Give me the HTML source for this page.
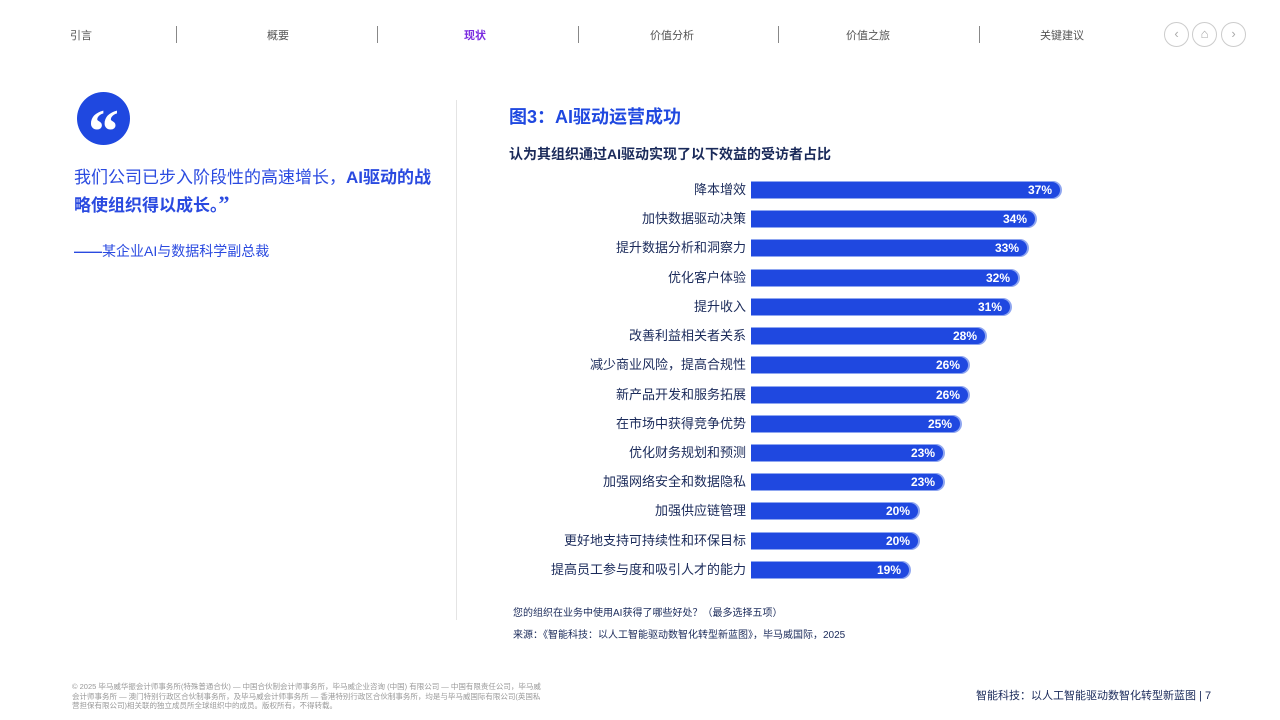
<!DOCTYPE html>
<html><head><meta charset="utf-8"><style>
body{margin:0;width:1280px;height:720px;background:#fff;position:relative;overflow:hidden;font-family:"Liberation Sans","Noto Sans CJK SC",sans-serif}
.a{position:absolute;white-space:nowrap}
.nav{top:27px;font-size:11px;color:#555}
.sep{position:absolute;top:26px;width:1px;height:17px;background:#888}
.lab{position:absolute;right:534px;font-size:13px;color:#1a2a5a;text-align:right;margin-top:-3px}
.bar{position:absolute;left:751px;height:16px;background:#1f48e0;border-radius:0 8px 8px 0;box-shadow:1px 0 0 1px #8fa6f0;color:#fff;font-size:12px;font-weight:bold;text-align:right;line-height:16px;box-sizing:border-box;padding-right:8px}
.circ{position:absolute;top:22px;width:23px;height:23px;border:1px solid #ccc;border-radius:50%;color:#aaa;font-size:13px;text-align:center;line-height:22px}
</style></head><body>
<div class="a nav" style="left:70px">引言</div>
<div class="sep" style="left:176px"></div>
<div class="a nav" style="left:267px">概要</div>
<div class="sep" style="left:377px"></div>
<div class="a nav" style="left:464px;color:#7a2be0;font-weight:bold">现状</div>
<div class="sep" style="left:578px"></div>
<div class="a nav" style="left:650px">价值分析</div>
<div class="sep" style="left:778px"></div>
<div class="a nav" style="left:846px">价值之旅</div>
<div class="sep" style="left:979px"></div>
<div class="a nav" style="left:1040px">关键建议</div>
<div class="circ" style="left:1164px">‹</div>
<div class="circ" style="left:1192px">⌂</div>
<div class="circ" style="left:1221px">›</div>

<div class="a" style="left:77px;top:92px;width:53px;height:53px;border-radius:50%;background:#1f48e0;color:#fff;font:bold 62px 'Liberation Serif',serif;text-align:center;line-height:80px">“</div>
<div class="a" style="left:74px;top:165px;width:370px;white-space:normal;font-size:17px;line-height:26px;color:#2a4ae0">我们公司已步入阶段性的高速增长，<b>AI驱动的战略使组织得以成长。<span style="font-family:'Liberation Serif',serif;font-size:22px">”</span></b></div>
<div class="a" style="left:74px;top:241px;font-size:14px;color:#2a4ae0"><b>——</b>某企业AI与数据科学副总裁</div>
<div class="a" style="left:456px;top:100px;width:1px;height:520px;background:#e4e4e4"></div>

<div class="a" style="left:509px;top:103px;font-size:18px;font-weight:bold;color:#1f48e0">图3：AI驱动运营成功</div>
<div class="a" style="left:509px;top:144px;font-size:14px;font-weight:bold;color:#1a2a5a">认为其组织通过AI驱动实现了以下效益的受访者占比</div>

<div class="lab" style="top:182px">降本增效</div><div class="bar" style="top:182px;width:309px">37%</div>
<div class="lab" style="top:211px">加快数据驱动决策</div><div class="bar" style="top:211px;width:284px">34%</div>
<div class="lab" style="top:240px">提升数据分析和洞察力</div><div class="bar" style="top:240px;width:276px">33%</div>
<div class="lab" style="top:270px">优化客户体验</div><div class="bar" style="top:270px;width:267px">32%</div>
<div class="lab" style="top:299px">提升收入</div><div class="bar" style="top:299px;width:259px">31%</div>
<div class="lab" style="top:328px">改善利益相关者关系</div><div class="bar" style="top:328px;width:234px">28%</div>
<div class="lab" style="top:357px">减少商业风险，提高合规性</div><div class="bar" style="top:357px;width:217px">26%</div>
<div class="lab" style="top:387px">新产品开发和服务拓展</div><div class="bar" style="top:387px;width:217px">26%</div>
<div class="lab" style="top:416px">在市场中获得竞争优势</div><div class="bar" style="top:416px;width:209px">25%</div>
<div class="lab" style="top:445px">优化财务规划和预测</div><div class="bar" style="top:445px;width:192px">23%</div>
<div class="lab" style="top:474px">加强网络安全和数据隐私</div><div class="bar" style="top:474px;width:192px">23%</div>
<div class="lab" style="top:503px">加强供应链管理</div><div class="bar" style="top:503px;width:167px">20%</div>
<div class="lab" style="top:533px">更好地支持可持续性和环保目标</div><div class="bar" style="top:533px;width:167px">20%</div>
<div class="lab" style="top:562px">提高员工参与度和吸引人才的能力</div><div class="bar" style="top:562px;width:158px">19%</div>

<div class="a" style="left:513px;top:604px;font-size:10px;color:#1a2a5a">您的组织在业务中使用AI获得了哪些好处？（最多选择五项）</div>
<div class="a" style="left:513px;top:626px;font-size:10px;color:#1a2a5a">来源：《智能科技：以人工智能驱动数智化转型新蓝图》，毕马威国际，2025</div>

<div class="a" style="left:72px;top:682px;font-size:7.5px;line-height:9.5px;color:#999;white-space:normal;width:470px">© 2025 毕马威华振会计师事务所(特殊普通合伙) — 中国合伙制会计师事务所，毕马威企业咨询 (中国) 有限公司 — 中国有限责任公司，毕马威会计师事务所 — 澳门特别行政区合伙制事务所，及毕马威会计师事务所 — 香港特别行政区合伙制事务所，均是与毕马威国际有限公司(英国私营担保有限公司)相关联的独立成员所全球组织中的成员。版权所有，不得转载。</div>
<div class="a" style="left:976px;top:687px;font-size:11px;color:#1a2a5a">智能科技：以人工智能驱动数智化转型新蓝图 | 7</div>
</body></html>
